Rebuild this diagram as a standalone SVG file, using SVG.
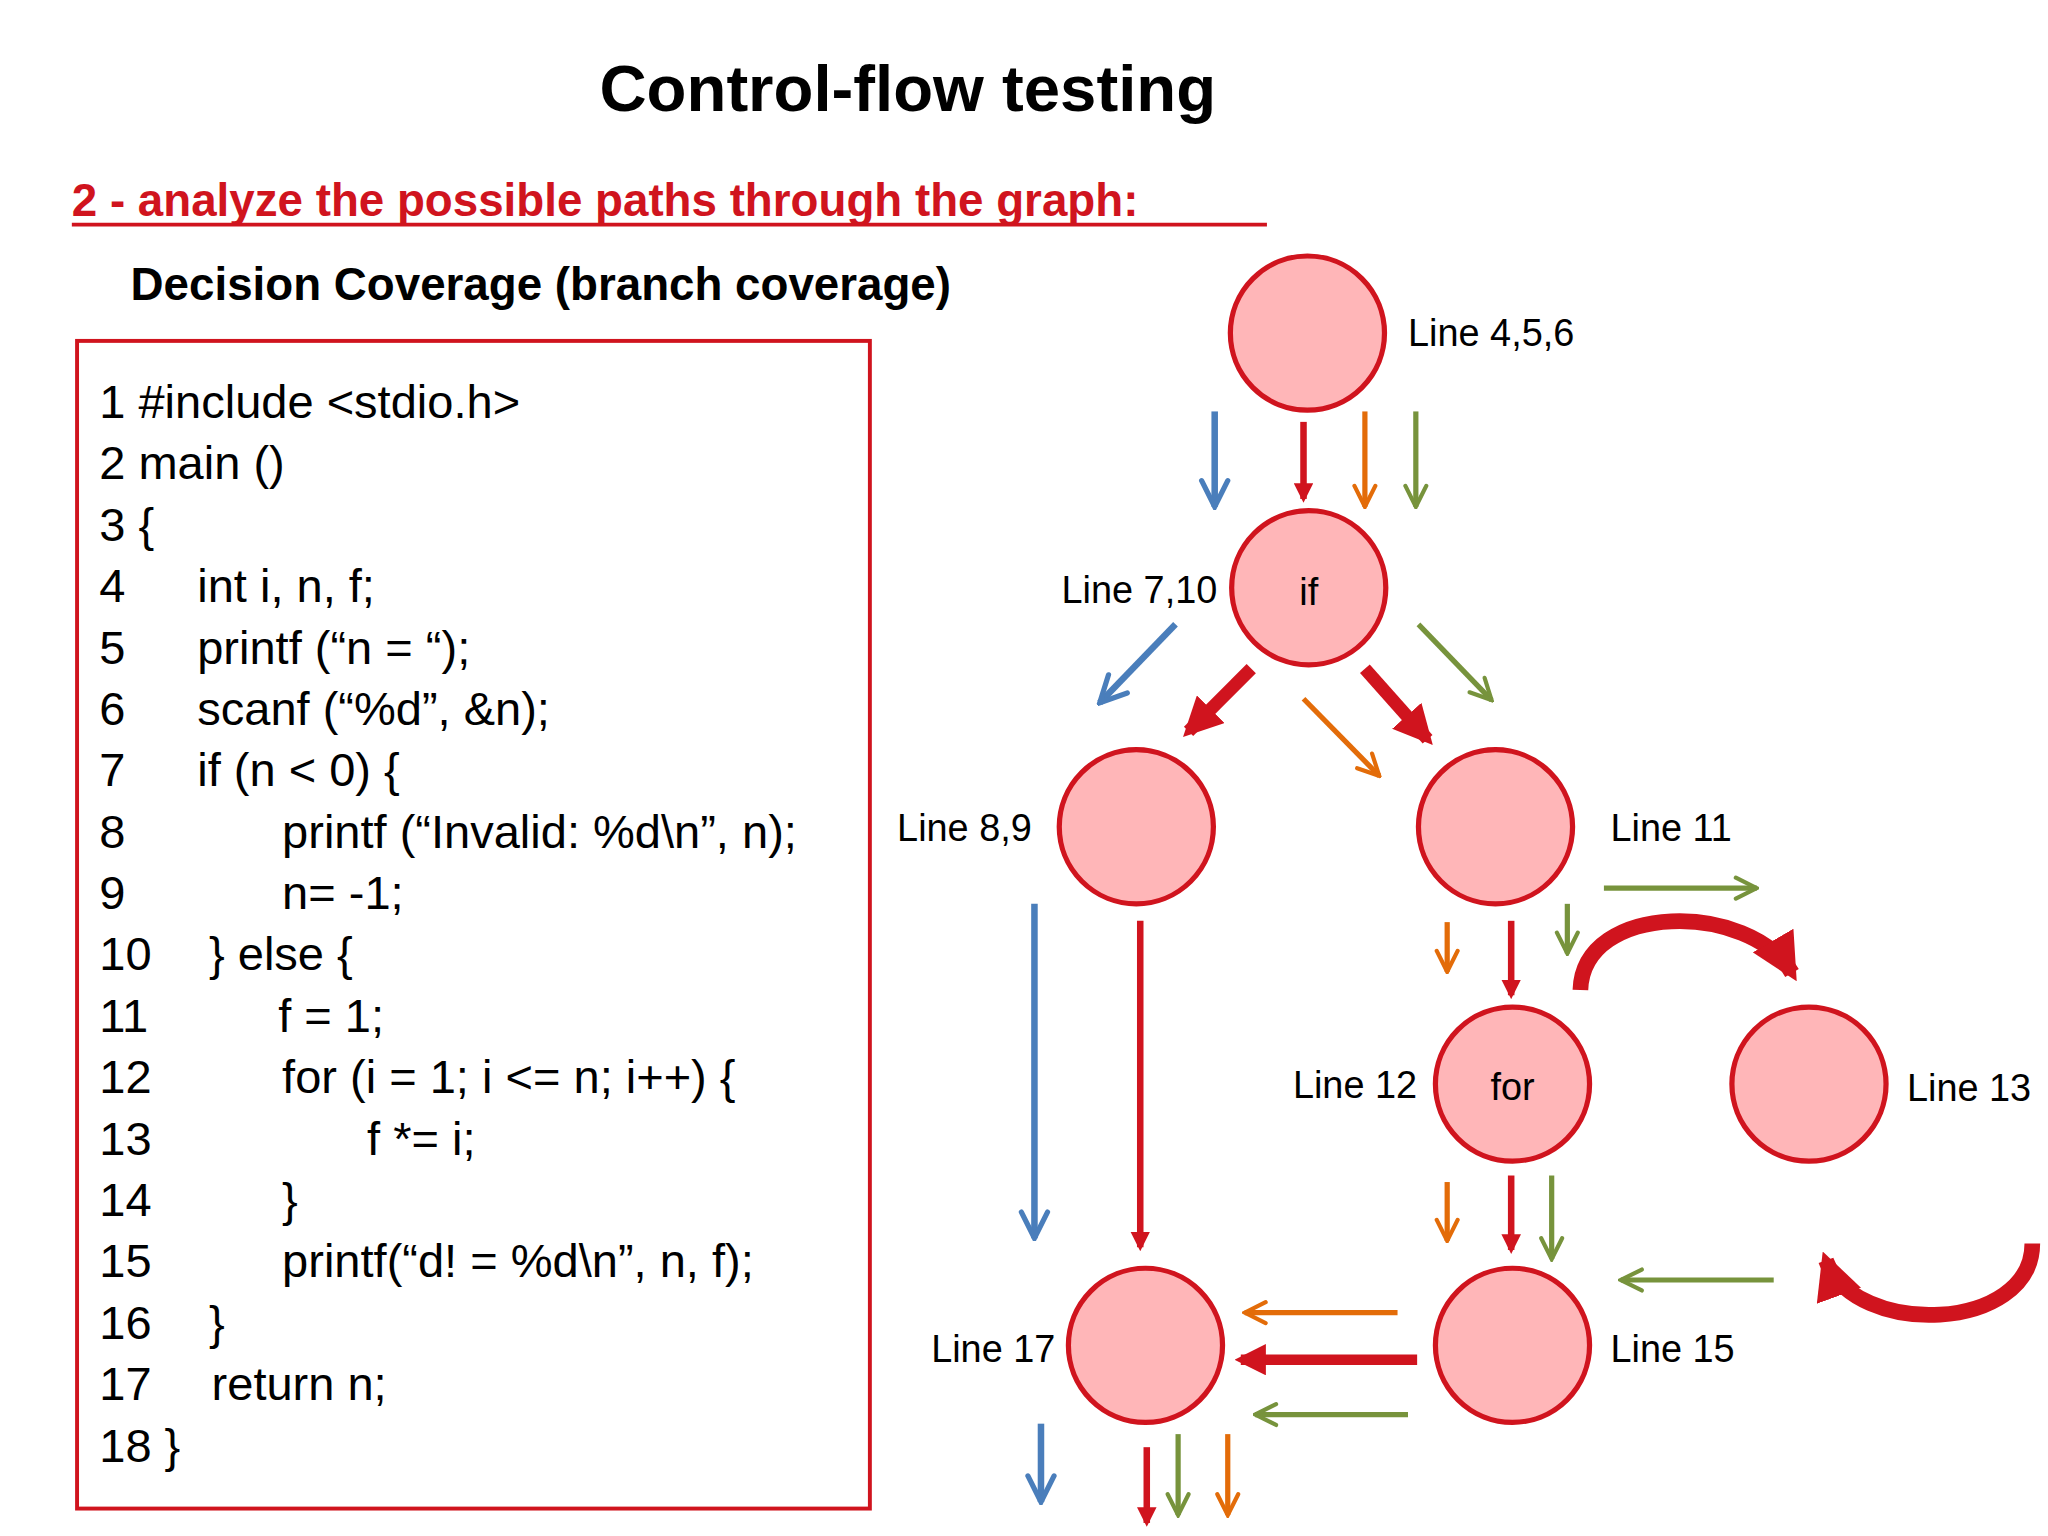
<svg xmlns="http://www.w3.org/2000/svg" width="2048" height="1536" viewBox="0 0 2048 1536">
<defs>
<style>
text{font-family:"Liberation Sans",Arial,sans-serif;fill:#000}
.code{font-size:36px}
.lbl{font-size:29px}
.node circle{fill:#ffb6b8;stroke:#d0141e;stroke-width:4}
.b{stroke:#4a7ebb;stroke-width:5;fill:none}
.o{stroke:#e36c09;stroke-width:4;fill:none}
.g{stroke:#77933c;stroke-width:4;fill:none}
.r{stroke:#d0141e;fill:none}
</style>
<marker id="mb" viewBox="0 0 10 10" refX="9" refY="5" markerWidth="5" markerHeight="5" orient="auto" markerUnits="strokeWidth"><path d="M1,1 L9,5 L1,9" fill="none" stroke="#4a7ebb" stroke-width="1.6" stroke-linecap="round"/></marker>
<marker id="mo" viewBox="0 0 10 10" refX="9" refY="5" markerWidth="5" markerHeight="5" orient="auto" markerUnits="strokeWidth"><path d="M1,1 L9,5 L1,9" fill="none" stroke="#e36c09" stroke-width="1.6" stroke-linecap="round"/></marker>
<marker id="mg" viewBox="0 0 10 10" refX="9" refY="5" markerWidth="5" markerHeight="5" orient="auto" markerUnits="strokeWidth"><path d="M1,1 L9,5 L1,9" fill="none" stroke="#77933c" stroke-width="1.6" stroke-linecap="round"/></marker>
<marker id="mr" viewBox="0 0 10 10" refX="8" refY="5" markerWidth="3" markerHeight="3" orient="auto" markerUnits="strokeWidth"><path d="M0,0 L10,5 L0,10 Z" fill="#d0141e"/></marker>
</defs>
<rect width="2048" height="1536" fill="#fff"/>
<g transform="scale(1.30612)">
<text x="695" y="85" font-size="50" font-weight="bold" text-anchor="middle">Control-flow testing</text>
<text x="55" y="165" font-size="35" font-weight="bold" style="fill:#d0141e">2 - analyze the possible paths through the graph:</text>
<line x1="55" y1="172" x2="970" y2="172" stroke="#d0141e" stroke-width="3"/>
<text x="100" y="230" font-size="35" font-weight="bold">Decision Coverage (branch coverage)</text>
<rect x="59" y="261" width="607" height="894" fill="none" stroke="#d0141e" stroke-width="3"/>
<g class="code">
<text x="76" y="320">1 #include &lt;stdio.h&gt;</text>
<text x="76" y="367">2 main ()</text>
<text x="76" y="414">3 {</text>
<text x="76" y="461">4</text><text x="151" y="461">int i, n, f;</text>
<text x="76" y="508">5</text><text x="151" y="508">printf (“n = “);</text>
<text x="76" y="555">6</text><text x="151" y="555">scanf (“%d”, &amp;n);</text>
<text x="76" y="602">7</text><text x="151" y="602">if (n &lt; 0) {</text>
<text x="76" y="649">8</text><text x="216" y="649">printf (“Invalid: %d\n”, n);</text>
<text x="76" y="696">9</text><text x="216" y="696">n= -1;</text>
<text x="76" y="743">10</text><text x="160" y="743">} else {</text>
<text x="76" y="790">11</text><text x="213" y="790">f = 1;</text>
<text x="76" y="837">12</text><text x="216" y="837">for (i = 1; i &lt;= n; i++) {</text>
<text x="76" y="884">13</text><text x="281" y="884">f *= i;</text>
<text x="76" y="931">14</text><text x="216" y="931">}</text>
<text x="76" y="978">15</text><text x="216" y="978">printf(“d! = %d\n”, n, f);</text>
<text x="76" y="1025">16</text><text x="160" y="1025">}</text>
<text x="76" y="1072">17</text><text x="162" y="1072">return n;</text>
<text x="76" y="1119">18 }</text>
</g>
<g id="n1" class="node"><circle cx="1001" cy="255" r="59"/><text class="lbl" x="1078" y="265">Line 4,5,6</text></g>
<g id="n2" class="node"><circle cx="1002" cy="450" r="59"/><text class="lbl" x="1002" y="463" text-anchor="middle">if</text><text class="lbl" x="932" y="462" text-anchor="end">Line 7,10</text></g>
<g id="n3" class="node"><circle cx="870" cy="633" r="59"/><text class="lbl" x="790" y="644" text-anchor="end">Line 8,9</text></g>
<g id="n4" class="node"><circle cx="1145" cy="633" r="59"/><text class="lbl" x="1233" y="644">Line 11</text></g>
<g id="n5" class="node"><circle cx="1158" cy="830" r="59"/><text class="lbl" x="1158" y="842" text-anchor="middle">for</text><text class="lbl" x="1085" y="841" text-anchor="end">Line 12</text></g>
<g id="n6" class="node"><circle cx="1385" cy="830" r="59"/><text class="lbl" x="1460" y="843">Line 13</text></g>
<g id="n7" class="node"><circle cx="1158" cy="1030" r="59"/><text class="lbl" x="1233" y="1043">Line 15</text></g>
<g id="n8" class="node"><circle cx="877" cy="1030" r="59"/><text class="lbl" x="808" y="1043" text-anchor="end">Line 17</text></g>
<g id="connectors">
<line class="b" x1="930" y1="315" x2="930" y2="388" marker-end="url(#mb)"/>
<line class="b" x1="900" y1="478" x2="842" y2="538" marker-end="url(#mb)"/>
<line class="b" x1="792" y1="692" x2="792" y2="948" marker-end="url(#mb)"/>
<line class="b" x1="797" y1="1090" x2="797" y2="1150" marker-end="url(#mb)"/>
<line class="r" stroke-width="5" x1="998" y1="323" x2="998" y2="382" marker-end="url(#mr)"/>
<line class="r" stroke-width="10" x1="958" y1="512" x2="910" y2="560" marker-end="url(#mr)"/>
<line class="r" stroke-width="10" x1="1045" y1="512" x2="1093" y2="566" marker-end="url(#mr)"/>
<line class="r" stroke-width="5" x1="873" y1="705" x2="873" y2="955" marker-end="url(#mr)"/>
<line class="r" stroke-width="5" x1="1157" y1="705" x2="1157" y2="762" marker-end="url(#mr)"/>
<line class="r" stroke-width="5" x1="1157" y1="900" x2="1157" y2="957" marker-end="url(#mr)"/>
<line class="r" stroke-width="8" x1="1085" y1="1041" x2="950" y2="1041" marker-end="url(#mr)"/>
<line class="r" stroke-width="5" x1="878" y1="1108" x2="878" y2="1166" marker-end="url(#mr)"/>
<path class="r" stroke-width="12" d="M1210,758 C1212,690 1340,690 1372,745" marker-end="url(#mr)"/>
<path class="r" stroke-width="12" d="M1556,952 C1556,1020 1420,1025 1398,965" marker-end="url(#mr)"/>
<line class="o" x1="1045" y1="315" x2="1045" y2="388" marker-end="url(#mo)"/>
<line class="o" x1="998" y1="535" x2="1056" y2="594" marker-end="url(#mo)"/>
<line class="o" x1="1108" y1="706" x2="1108" y2="744" marker-end="url(#mo)"/>
<line class="o" x1="1108" y1="905" x2="1108" y2="950" marker-end="url(#mo)"/>
<line class="o" x1="1070" y1="1005" x2="953" y2="1005" marker-end="url(#mo)"/>
<line class="o" x1="940" y1="1098" x2="940" y2="1160" marker-end="url(#mo)"/>
<line class="g" x1="1084" y1="315" x2="1084" y2="388" marker-end="url(#mg)"/>
<line class="g" x1="1086" y1="478" x2="1142" y2="536" marker-end="url(#mg)"/>
<line class="g" x1="1228" y1="680" x2="1345" y2="680" marker-end="url(#mg)"/>
<line class="g" x1="1200" y1="692" x2="1200" y2="730" marker-end="url(#mg)"/>
<line class="g" x1="1188" y1="900" x2="1188" y2="964" marker-end="url(#mg)"/>
<line class="g" x1="1358" y1="980" x2="1241" y2="980" marker-end="url(#mg)"/>
<line class="g" x1="1078" y1="1083" x2="961" y2="1083" marker-end="url(#mg)"/>
<line class="g" x1="902" y1="1098" x2="902" y2="1160" marker-end="url(#mg)"/>
</g>
</g>
</svg>
